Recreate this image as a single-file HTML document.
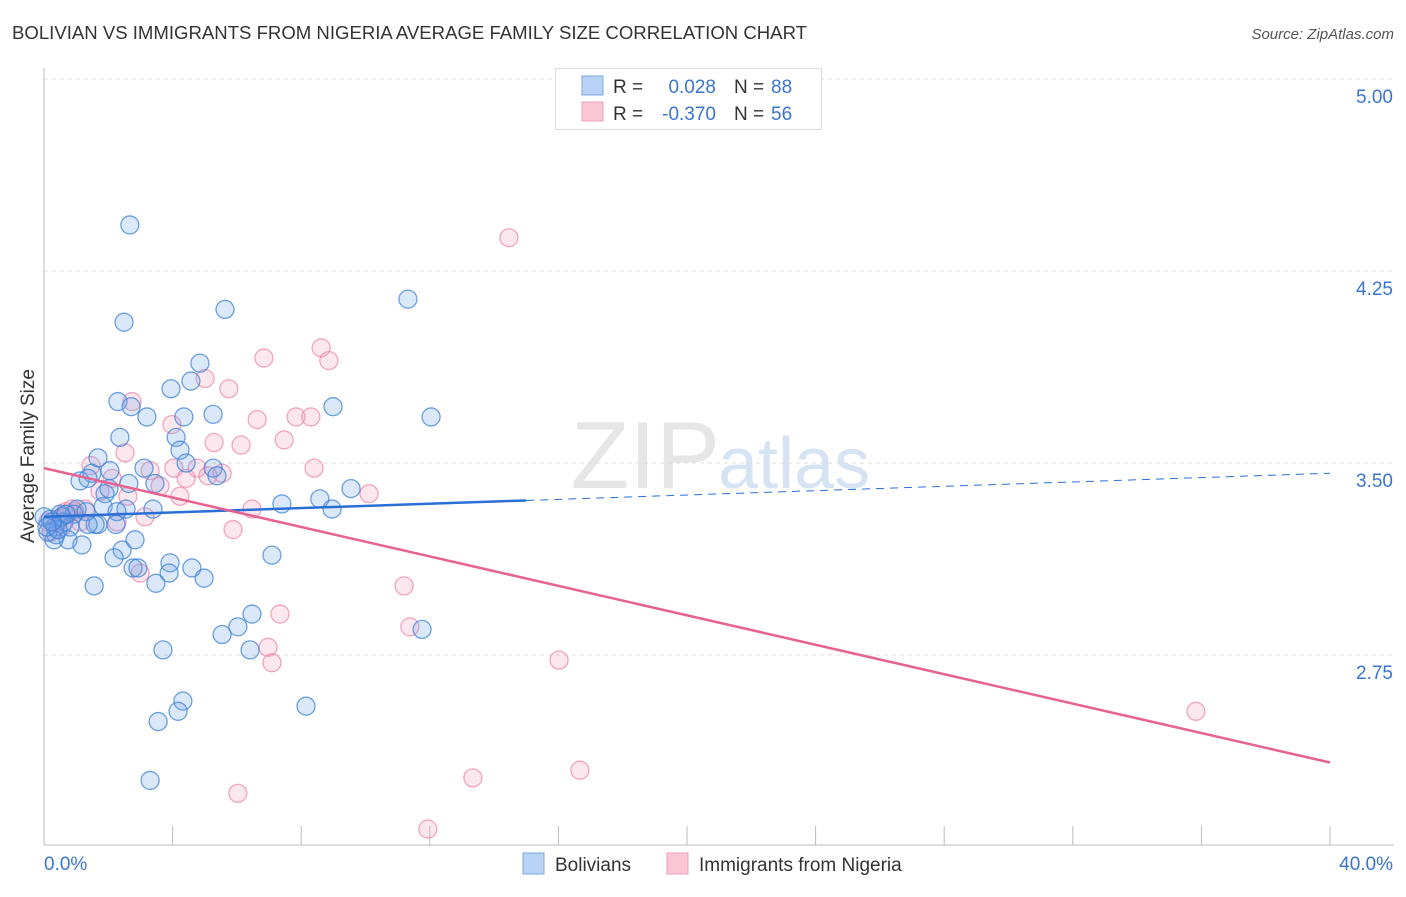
<!DOCTYPE html>
<html><head><meta charset="utf-8"><style>
body{margin:0;background:#fff;font-family:"Liberation Sans",sans-serif;}
svg text{font-family:"Liberation Sans",sans-serif;}
</style></head><body>
<svg id="c" width="1406" height="892" xmlns="http://www.w3.org/2000/svg">
<text x="12" y="39" font-size="18" fill="#333" textLength="795" lengthAdjust="spacingAndGlyphs">BOLIVIAN VS IMMIGRANTS FROM NIGERIA AVERAGE FAMILY SIZE CORRELATION CHART</text>
<text x="1394" y="39" font-size="15" fill="#555" font-style="italic" text-anchor="end">Source: ZipAtlas.com</text>
<text x="720" y="488" font-size="96" fill="#e6e6e6" text-anchor="end" font-family="Liberation Serif">ZIP</text>
<text x="718" y="488" font-size="72" fill="#d5e3f3">atlas</text>
<g id="grid"></g>
<g id="axes"></g>
<g id="pts"></g>
<g id="trend"></g>
<text transform="translate(34,456) rotate(-90)" font-size="19" fill="#333" text-anchor="middle">Average Family Size</text>
<g>
<rect x="555.5" y="68.5" width="266" height="61" fill="#fff" stroke="#ddd"/>
<rect x="582" y="76" width="21" height="19" fill="#b8d3f5" stroke="#7aa8e0"/>
<rect x="582" y="102" width="21" height="19" fill="#f9c6d6" stroke="#f0a0b8"/>
<text x="613" y="93" font-size="19" fill="#333">R =</text><text x="716" y="93" font-size="19" fill="#3a74d0" text-anchor="end">0.028</text>
<text x="734" y="93" font-size="19" fill="#333">N =</text><text x="771" y="93" font-size="19" fill="#3a74d0">88</text>
<text x="613" y="120" font-size="19" fill="#333">R =</text><text x="716" y="120" font-size="19" fill="#3a74d0" text-anchor="end">-0.370</text>
<text x="734" y="120" font-size="19" fill="#333">N =</text><text x="771" y="120" font-size="19" fill="#3a74d0">56</text>
</g>
<g>
<rect x="523" y="853" width="21" height="21" fill="#b8d3f5" stroke="#7aa8e0"/>
<text x="555" y="871" font-size="19" fill="#333">Bolivians</text>
<rect x="667" y="853" width="21" height="21" fill="#f9c6d6" stroke="#f0a0b8"/>
<text x="699" y="871" font-size="19" fill="#333">Immigrants from Nigeria</text>
</g>
</svg>
<script>
const yTicks=[5.00,4.25,3.50,2.75];
const xLabels=["0.0%","40.0%"];
const blueX=[2.67,2.49,5.63,11.32,4.85,4.57,3.95,2.30,2.71,3.20,4.35,5.26,8.99,12.04,2.36,4.11,4.23,1.68,4.42,2.05,1.49,5.26,3.11,1.12,1.37,2.64,3.45,5.38,1.90,2.02,9.55,8.58,7.40,8.96,1.84,2.55,3.39,2.27,1.03,0.93,0.50,0.19,0.62,0.34,0.81,1.68,1.59,2.24,0.37,0.75,0.31,1.18,2.43,2.83,2.18,7.09,2.77,2.92,3.92,4.60,3.89,3.48,4.98,1.56,6.47,6.03,5.54,11.76,6.41,3.70,4.32,4.17,3.55,8.15,3.30,0.0,0.12,0.56,1.31,0.68,0.44,0.25,0.09,1.37];
const blueY=[4.43,4.05,4.10,4.14,3.89,3.82,3.79,3.74,3.72,3.68,3.68,3.69,3.72,3.68,3.60,3.60,3.55,3.52,3.50,3.47,3.46,3.48,3.48,3.43,3.44,3.42,3.42,3.45,3.38,3.40,3.40,3.36,3.34,3.32,3.33,3.32,3.32,3.31,3.32,3.30,3.30,3.28,3.27,3.25,3.25,3.26,3.26,3.26,3.22,3.20,3.20,3.18,3.16,3.20,3.13,3.14,3.09,3.09,3.11,3.09,3.07,3.03,3.05,3.02,2.91,2.86,2.83,2.85,2.77,2.77,2.57,2.53,2.49,2.55,2.26,3.29,3.23,3.29,3.31,3.30,3.24,3.27,3.25,3.26];
const pinkX=[14.46,8.62,6.84,8.86,5.01,2.74,5.75,3.98,7.84,6.63,8.30,7.47,5.29,6.13,2.52,8.40,3.30,4.04,4.76,1.46,2.12,5.54,5.10,4.42,3.61,2.61,4.23,10.11,6.47,3.14,2.27,5.88,1.28,0.96,0.72,0.40,0.56,0.22,2.99,11.20,7.34,11.38,6.97,7.09,16.02,35.83,13.34,16.67,6.03,11.94,0.44,0.87,1.74,0.68,1.12,0.12];
const pinkY=[4.38,3.95,3.91,3.90,3.83,3.74,3.79,3.65,3.68,3.67,3.68,3.59,3.58,3.57,3.54,3.48,3.47,3.48,3.48,3.49,3.44,3.46,3.45,3.44,3.41,3.37,3.37,3.38,3.32,3.29,3.27,3.24,3.32,3.31,3.30,3.28,3.25,3.23,3.07,3.02,2.91,2.86,2.78,2.72,2.73,2.53,2.27,2.30,2.21,2.07,3.27,3.32,3.39,3.31,3.27,3.27];
const blueTrend=[3.29,3.46];
const pinkTrend=[3.48,2.33];
const blueSolidEnd=15;

const NS="http://www.w3.org/2000/svg";
const X0=44,X1=1330,Y5=79,PXU=256;
function sx(v){return X0+(v/40)*(X1-X0);}
function sy(v){return Y5+(5-v)*PXU;}
function mk(tag,attrs,parent){const e=document.createElementNS(NS,tag);for(const k in attrs)e.setAttribute(k,attrs[k]);parent.appendChild(e);return e;}
const grid=document.getElementById('grid'),axes=document.getElementById('axes'),pts=document.getElementById('pts'),trend=document.getElementById('trend');
yTicks.forEach(t=>{
 const l=mk('line',{x1:X0,x2:1394,y1:sy(t),y2:sy(t),stroke:'#dcdcdc','stroke-dasharray':'4,4'},grid);
 
 
 const tx=mk('text',{x:1393,y:sy(t)+24,'font-size':19,fill:'#3a74d0','text-anchor':'end'},grid);
 tx.textContent=t.toFixed(2);
 
 
});
const ya=mk('line',{x1:X0,x2:X0,y1:68,y2:845,stroke:'#bbb'},axes);


const xa=mk('line',{x1:X0,x2:1394,y1:845,y2:845,stroke:'#bbb'},axes);


for(let i=1;i<=10;i++){
 const tk=mk('line',{x1:sx(i*4),x2:sx(i*4),y1:826,y2:845,stroke:'#bbb'},axes);
 
 
}
const l0=mk('text',{x:44,y:870,'font-size':19,fill:'#3a74d0'},axes);l0.textContent=xLabels[0];


const l1=mk('text',{x:1393,y:870,'font-size':19,fill:'#3a74d0','text-anchor':'end'},axes);l1.textContent=xLabels[1];


function dots(xs,ys,fill,stroke,name){
 xs.forEach((v,i)=>{
  const c=mk('circle',{cx:sx(v),cy:sy(ys[i]),r:9,fill:fill,stroke:stroke,'stroke-width':1.3},pts);
  
  
 });
}
dots(pinkX,pinkY,'rgba(244,160,188,0.25)','rgba(236,130,165,0.7)','nigeria-point');
dots(blueX,blueY,'rgba(110,165,235,0.25)','rgba(60,130,215,0.75)','bolivian-point');
function ty(tr,x){return tr[0]+(tr[1]-tr[0])*x/40;}
const b1=mk('line',{x1:sx(0),y1:sy(ty(blueTrend,0)),x2:sx(blueSolidEnd),y2:sy(ty(blueTrend,blueSolidEnd)),stroke:'#2a6fd6','stroke-width':2.5},trend);


const b2=mk('line',{x1:sx(blueSolidEnd),y1:sy(ty(blueTrend,blueSolidEnd)),x2:sx(40),y2:sy(ty(blueTrend,40)),stroke:'#2a6fd6','stroke-width':1,'stroke-dasharray':'8,6'},trend);


const p1=mk('line',{x1:sx(0),y1:sy(ty(pinkTrend,0)),x2:sx(40),y2:sy(ty(pinkTrend,40)),stroke:'#e8628f','stroke-width':2.5},trend);


</script>
</body></html>
